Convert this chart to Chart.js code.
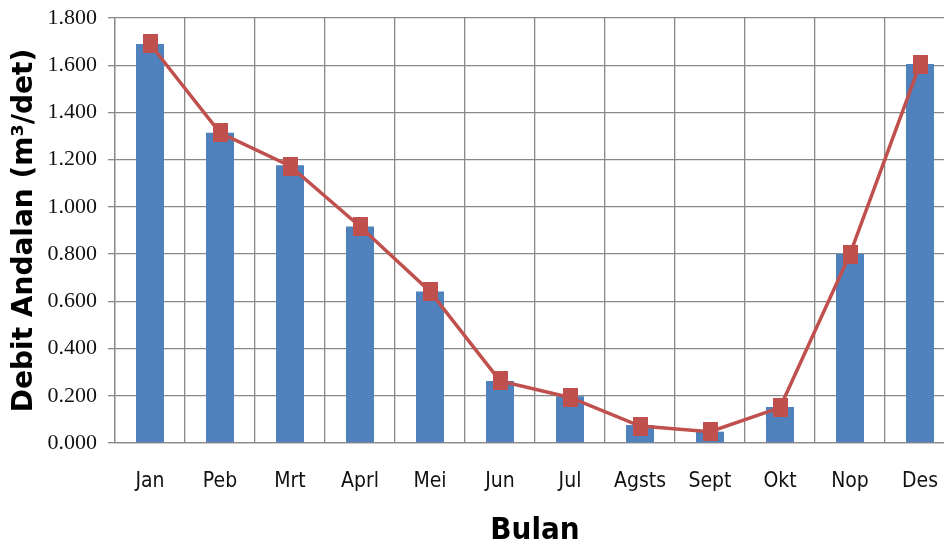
<!DOCTYPE html>
<html>
<head>
<meta charset="utf-8">
<script src="https://cdn.jsdelivr.net/npm/chart.js@4"></script>
<style>
  html, body { margin: 0; padding: 0; background: #fff; overflow: hidden; }
  #wrap { width: 960px; height: 547px; overflow: hidden; }
  canvas { display: block; width: 960px; height: 547px; }
</style>
</head>
<body>
<div id="wrap"><canvas id="debit" width="960" height="547"></canvas></div>
<script>
// bulan dan debit andalan (m3/det)
var bulan = ['Jan', 'Peb', 'Mrt', 'Aprl', 'Mei', 'Jun', 'Jul', 'Agsts', 'Sept', 'Okt', 'Nop', 'Des'];
var debitBatang = [1.690, 1.314, 1.176, 0.917, 0.642, 0.263, 0.198, 0.076, 0.048, 0.153, 0.800, 1.605];
var debitGaris = [1.690, 1.314, 1.173, 0.917, 0.642, 0.263, 0.193, 0.072, 0.048, 0.150, 0.800, 1.605];
var sumbuY = { min: 0, max: 1.8, step: 0.2 };

var merah = '#C0504D',
  biru = '#4F81BD';

// penanda kotak agak tinggi
function kotak(w, h) {
  var c = document.createElement('canvas');
  c.width = w;
  c.height = h;
  var g = c.getContext('2d');
  g.fillStyle = merah;
  g.fillRect(0, 0, w, h);
  return c;
}

var narrow = "'DejaVu Sans Condensed', 'DejaVu Sans', sans-serif";

new Chart(document.getElementById('debit').getContext('2d'), {
  type: 'bar',
  data: {
    labels: bulan,
    datasets: [
      {
        type: 'line',
        label: 'Debit',
        data: debitGaris,
        borderColor: merah,
        borderWidth: 3.5,
        pointStyle: kotak(15, 19),
        pointRadius: 1,
        pointBorderWidth: 0,
        tension: 0,
        clip: false,
        order: 0
      },
      {
        label: 'Debit Andalan',
        data: debitBatang,
        backgroundColor: biru,
        barPercentage: 0.4,
        categoryPercentage: 1,
        order: 1
      }
    ]
  },
  options: {
    responsive: false,
    animation: false,
    layout: { padding: { top: 18, right: 5, left: 0, bottom: 0 } },
    plugins: { legend: { display: false }, tooltip: { enabled: false } },
    scales: {
      x: {
        grid: { color: '#888', lineWidth: 1.3, drawTicks: false },
        border: { color: '#888', width: 1.3 },
        ticks: {
          color: '#111',
          padding: 26,
          font: { family: narrow, size: 21 }
        },
        title: {
          display: true,
          text: 'Bulan',
          color: '#000',
          padding: { top: 0, bottom: 1 },
          font: { family: narrow, size: 31, weight: 'bold', lineHeight: 1 }
        },
        afterFit: function (s) {
          s.height = 104;
          s.paddingLeft = 0;
          s.paddingRight = 0;
        }
      },
      y: {
        min: sumbuY.min,
        max: sumbuY.max,
        grid: { color: '#888', lineWidth: 1.3, tickLength: 7 },
        border: { color: '#888', width: 1.3 },
        ticks: {
          stepSize: sumbuY.step,
          color: '#111',
          padding: 11,
          font: { family: "'Liberation Serif', serif", size: 22 },
          callback: function (v) { return v.toFixed(3); }
        },
        title: {
          display: true,
          text: 'Debit Andalan (m³/det)',
          color: '#000',
          padding: { top: 8, bottom: 0 },
          font: { family: "'DejaVu Sans', sans-serif", size: 28, weight: 'bold' }
        },
        afterFit: function (s) {
          s.width = 115;
          s.paddingTop = 0;
          s.paddingBottom = 0;
        }
      }
    }
  }
});
</script>
</body>
</html>
